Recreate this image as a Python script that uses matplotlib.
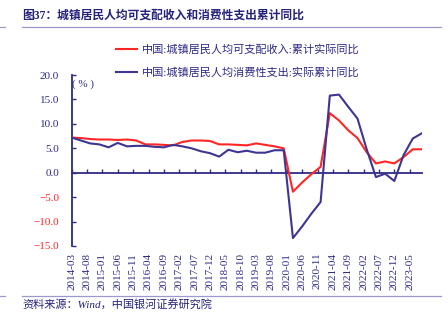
import matplotlib
matplotlib.use("Agg")
import matplotlib.pyplot as plt
from matplotlib.lines import Line2D

plt.rcParams['font.family'] = ['Liberation Serif', 'Noto Sans CJK SC']

# ---------------- data ----------------
quarters = [f"{y}-{m:02d}" for y in range(2014, 2024) for m in (3, 6, 9, 12)][:39]
income = [7.2, 7.1, 6.9, 6.8, 6.8, 6.7, 6.8, 6.6, 5.8, 5.8, 5.7, 5.6,
          6.3, 6.6, 6.6, 6.5, 5.8, 5.8, 5.7, 5.6, 6.0, 5.7, 5.4, 5.0,
          -3.9, -2.0, -0.3, 1.2, 12.2, 10.7, 8.7, 7.1, 4.2, 1.9, 2.3, 1.9,
          3.2, 4.8, 4.8]
consumption = [7.2, 6.6, 6.0, 5.8, 5.2, 6.1, 5.4, 5.5, 5.5, 5.3, 5.2, 5.7,
               5.4, 5.0, 4.4, 4.0, 3.3, 4.7, 4.2, 4.5, 4.1, 4.1, 4.6, 4.6,
               -13.4, -11.0, -8.4, -6.0, 15.8, 16.0, 13.5, 11.1, 4.8, -0.9, -0.2, -1.7,
               3.6, 7.0, 8.1]
xtick_labels = ["2014-03", "2014-08", "2015-01", "2015-06", "2015-11", "2016-04",
                "2016-09", "2017-02", "2017-07", "2017-12", "2018-05", "2018-10",
                "2019-03", "2019-08", "2020-01", "2020-06", "2020-11", "2021-04",
                "2021-09", "2022-02", "2022-07", "2022-12", "2023-05"]
yticks = [-15, -10, -5, 0, 5, 10, 15, 20]
series_names = ["中国:城镇居民人均可支配收入:累计实际同比",
                "中国:城镇居民人均消费性支出:实际累计同比"]
title = "图37：城镇居民人均可支配收入和消费性支出累计同比"
source = "资料来源：Wind，中国银河证券研究院"

def month_index(s):
    y, m = map(int, s.split("-"))
    return (y - 2014) * 12 + (m - 3)

xq = [month_index(q) for q in quarters]
xt = [month_index(s) for s in xtick_labels]

NAVY = "#2e2a85"
BLUE = "#3d3592"
RED = "#ff2626"

W, H = 448, 325
fig = plt.figure(figsize=(W / 100, H / 100), dpi=100)
ax = fig.add_axes([71.7 / W, 79.1 / H, 350.3 / W, 170.8 / H])

ax.plot(xq, income, color=RED, lw=1.5, zorder=3)
ax.plot(xq, consumption, color=BLUE, lw=1.5, zorder=4)

ax.set_xlim(0, month_index("2023-09"))
ax.set_ylim(-15, 20)

for s in ("top", "right", "bottom"):
    ax.spines[s].set_visible(False)
ax.spines["left"].set_color(NAVY)
ax.spines["left"].set_linewidth(1.3)

# y ticks
ax.set_yticks(yticks, labels=[(f"{v:.1f}" if v >= 0 else "\u2212" + f"{abs(v):.1f}") for v in yticks])
ax.tick_params(axis="y", direction="in", length=3, width=1, color=NAVY, labelsize=8, pad=9)
for v, lab in zip(yticks, ax.get_yticklabels()):
    lab.set_color(RED if v < 0 else NAVY)

# x tick labels at the bottom
ax.set_xticks(xt, labels=xtick_labels)
ax.tick_params(axis="x", length=0, pad=5, labelsize=8, labelrotation=90, labelcolor=NAVY)

# zero axis line with ticks
sec = ax.secondary_xaxis(15 / 35)
sec.set_xticks(xt)
sec.tick_params(axis="x", direction="in", length=3, width=1, color=NAVY, labelbottom=False, labeltop=False)
for s in ("top", "bottom"):
    sec.spines[s].set_color(NAVY)
    sec.spines[s].set_linewidth(1.3)

ax.text(0.0, 0.975, "( % )", transform=ax.transAxes, fontsize=8, color=NAVY, va="top", ha="left")

# legend
handles = [Line2D([], [], color=RED, lw=1.5), Line2D([], [], color=BLUE, lw=1.5)]
fig.legend(handles, series_names, loc="upper left", bbox_to_anchor=(116 / W, 1 - 44 / H),
           frameon=False, fontsize=8, labelcolor=NAVY, handlelength=1.9, handletextpad=0.45,
           borderpad=0, borderaxespad=0, labelspacing=1.13)

# title and rules
fig.text(22 / W, 1 - 16 / H, title, fontsize=8.5, weight="bold", color="#25237a", va="center", ha="left")
fig.add_artist(Line2D([22 / W, 441 / W], [1 - 27 / H] * 2, transform=fig.transFigure, color="#9a98cc", lw=0.9))
fig.add_artist(Line2D([0, 5 / W], [1 - 27 / H] * 2, transform=fig.transFigure, color="#9a98cc", lw=0.9))
fig.add_artist(Line2D([22 / W, 441 / W], [1 - 296 / H] * 2, transform=fig.transFigure, color="#9a98cc", lw=0.9))
fig.add_artist(Line2D([0, 5 / W], [1 - 296 / H] * 2, transform=fig.transFigure, color="#9a98cc", lw=0.9))
fig.text(22 / W, 1 - 304 / H, source, fontsize=8, style="italic", color="#25237a", va="center", ha="left")

fig.savefig("out.png", dpi=100)
